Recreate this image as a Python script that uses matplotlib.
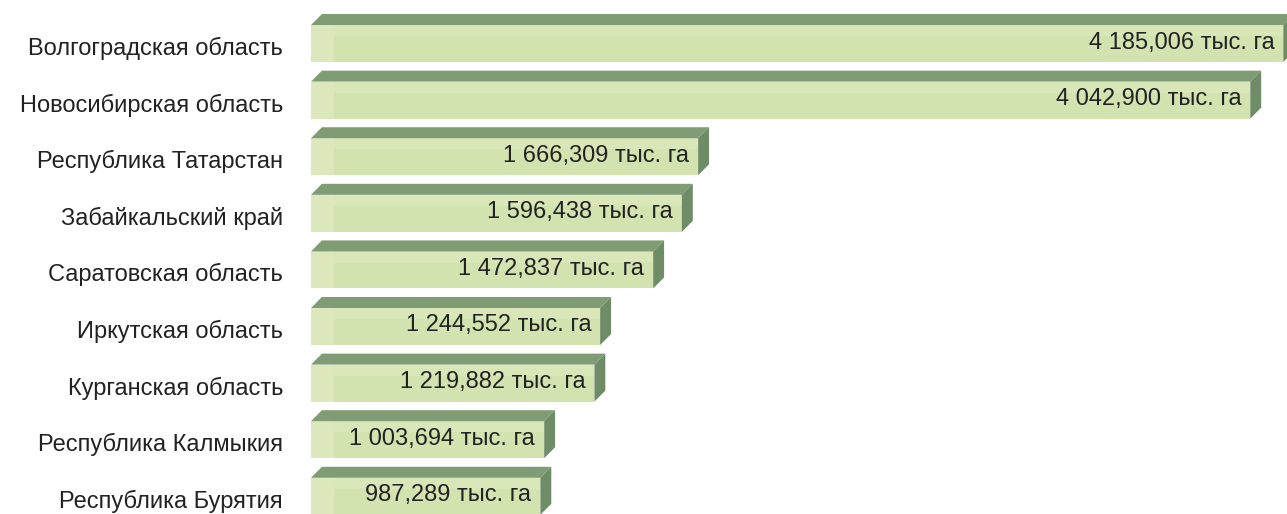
import matplotlib.pyplot as plt
from matplotlib.patches import Polygon, Rectangle

regions = ["Волгоградская область", "Новосибирская область", "Республика Татарстан",
           "Забайкальский край", "Саратовская область", "Иркутская область",
           "Курганская область", "Республика Калмыкия", "Республика Бурятия"]
values = [4185.006, 4042.900, 1666.309, 1596.438, 1472.837, 1244.552,
          1219.882, 1003.694, 987.289]
labels = ["4 185,006 тыс. га", "4 042,900 тыс. га", "1 666,309 тыс. га",
          "1 596,438 тыс. га", "1 472,837 тыс. га", "1 244,552 тыс. га",
          "1 219,882 тыс. га", "1 003,694 тыс. га", "987,289 тыс. га"]

plt.rcParams['font.family'] = ['Liberation Sans', 'DejaVu Sans']

fig = plt.figure(figsize=(12.87, 5.14), dpi=100)
ax = fig.add_axes([311 / 1287, 0, 976 / 1287, 1])
ax.set_xlim(0, 4201)
ax.set_ylim(8.313, -0.769)
ax.axis('off')

h = 0.654          # front face height (bar units)
dx = 47            # depth along x (data units)
dy = 0.194         # depth along y (bar units)

front = '#d3e3b0'
front_left = '#dce8bb'
top = '#7f9c74'
side = '#6e8c66'

for i, v in enumerate(values):
    y0 = i - h / 2
    y1 = i + h / 2
    ax.add_patch(Rectangle((0, y0), v, h, facecolor=front, edgecolor='none', zorder=2))
    ax.add_patch(Rectangle((0, y0), v, h * 0.3, facecolor='#d8e6b8', edgecolor='none', zorder=2))
    ax.add_patch(Rectangle((0, y0), 100, h, facecolor=front_left, edgecolor='none', zorder=2))
    ax.add_patch(Polygon([(0, y0), (dx, y0 - dy), (v + dx, y0 - dy), (v, y0)],
                         closed=True, facecolor=top, edgecolor='none', zorder=3))
    ax.add_patch(Polygon([(v, y0), (v + dx, y0 - dy), (v + dx, y1 - dy), (v, y1)],
                         closed=True, facecolor=side, edgecolor='none', zorder=3))
    ax.annotate(labels[i], (v, i), xytext=(-9, 1), textcoords='offset pixels',
                ha='right', va='center', fontsize=17, color='#222222', zorder=4)
    ax.annotate(regions[i], (0, i), xytext=(-28, -5), textcoords='offset pixels',
                ha='right', va='center', fontsize=17, color='#222222',
                annotation_clip=False, zorder=4)

fig.savefig('out.png', dpi=100)
